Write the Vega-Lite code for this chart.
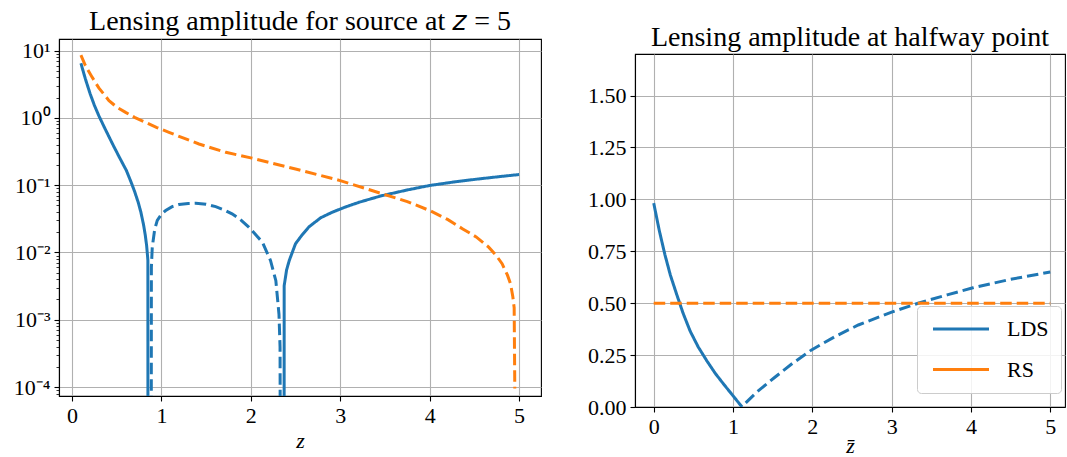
{
  "$schema": "https://vega.github.io/schema/vega-lite/v6.json",
  "padding": {"left": 12, "top": 7, "right": 0, "bottom": 0},
  "spacing": 44,
  "config": {
    "font": "Liberation Serif",
    "view": {"stroke": "#000000", "strokeWidth": 1.1},
    "title": {"font": "Liberation Serif", "fontSize": 28, "fontWeight": "normal", "color": "#000000", "offset": 3, "anchor": "middle", "baseline": "bottom"},
    "axis": {
      "labelFont": "Liberation Serif", "labelFontSize": 22, "labelColor": "#000000",
      "titleFont": "Liberation Serif", "titleFontSize": 22, "titleFontWeight": "normal", "titleColor": "#000000",
      "domainColor": "#000000", "domainWidth": 1.1, "tickColor": "#000000", "tickSize": 5, "tickWidth": 1.1,
      "gridColor": "#b0b0b0", "gridWidth": 1.1, "labelPadding": 4, "grid": true, "labelOverlap": false
    },
    "legend": {"labelFont": "Liberation Serif", "labelFontSize": 22, "labelColor": "#000000"}
  },
  "resolve": {"scale": {"color": "independent", "strokeDash": "independent"}, "legend": {"color": "independent"}},
  "hconcat": [
    {
      "width": 482,
      "height": 357,
      "title": {"text": "Lensing amplitude for source at 𝑧 = 5"},
      "data": {"values": [
        {"series": "LDS", "seg": "a", "style": "solid", "z": 0.1, "A": 6.5},
        {"series": "LDS", "seg": "a", "style": "solid", "z": 0.15, "A": 3.8},
        {"series": "LDS", "seg": "a", "style": "solid", "z": 0.204, "A": 2.27},
        {"series": "LDS", "seg": "a", "style": "solid", "z": 0.25, "A": 1.55},
        {"series": "LDS", "seg": "a", "style": "solid", "z": 0.3, "A": 1.08},
        {"series": "LDS", "seg": "a", "style": "solid", "z": 0.37, "A": 0.69},
        {"series": "LDS", "seg": "a", "style": "solid", "z": 0.454, "A": 0.41},
        {"series": "LDS", "seg": "a", "style": "solid", "z": 0.53, "A": 0.26},
        {"series": "LDS", "seg": "a", "style": "solid", "z": 0.608, "A": 0.166},
        {"series": "LDS", "seg": "a", "style": "solid", "z": 0.66, "A": 0.112},
        {"series": "LDS", "seg": "a", "style": "solid", "z": 0.7, "A": 0.081},
        {"series": "LDS", "seg": "a", "style": "solid", "z": 0.74, "A": 0.056},
        {"series": "LDS", "seg": "a", "style": "solid", "z": 0.77, "A": 0.04},
        {"series": "LDS", "seg": "a", "style": "solid", "z": 0.8, "A": 0.026},
        {"series": "LDS", "seg": "a", "style": "solid", "z": 0.82, "A": 0.018},
        {"series": "LDS", "seg": "a", "style": "solid", "z": 0.835, "A": 0.0126},
        {"series": "LDS", "seg": "a", "style": "solid", "z": 0.845, "A": 0.0089},
        {"series": "LDS", "seg": "a", "style": "solid", "z": 0.849, "A": 0.0076},
        {"series": "LDS", "seg": "a", "style": "solid", "z": 0.85, "A": 1e-7},
        {"series": "LDS", "seg": "b", "style": "dashed", "z": 0.886, "A": 1e-7},
        {"series": "LDS", "seg": "b", "style": "dashed", "z": 0.888, "A": 0.006},
        {"series": "LDS", "seg": "b", "style": "dashed", "z": 0.898, "A": 0.012},
        {"series": "LDS", "seg": "b", "style": "dashed", "z": 0.925, "A": 0.022},
        {"series": "LDS", "seg": "b", "style": "dashed", "z": 0.954, "A": 0.03},
        {"series": "LDS", "seg": "b", "style": "dashed", "z": 1.0, "A": 0.037},
        {"series": "LDS", "seg": "b", "style": "dashed", "z": 1.048, "A": 0.042},
        {"series": "LDS", "seg": "b", "style": "dashed", "z": 1.12, "A": 0.048},
        {"series": "LDS", "seg": "b", "style": "dashed", "z": 1.197, "A": 0.0515},
        {"series": "LDS", "seg": "b", "style": "dashed", "z": 1.3, "A": 0.0535},
        {"series": "LDS", "seg": "b", "style": "dashed", "z": 1.384, "A": 0.0538},
        {"series": "LDS", "seg": "b", "style": "dashed", "z": 1.5, "A": 0.052},
        {"series": "LDS", "seg": "b", "style": "dashed", "z": 1.607, "A": 0.048},
        {"series": "LDS", "seg": "b", "style": "dashed", "z": 1.7, "A": 0.043},
        {"series": "LDS", "seg": "b", "style": "dashed", "z": 1.79, "A": 0.0375},
        {"series": "LDS", "seg": "b", "style": "dashed", "z": 1.88, "A": 0.031},
        {"series": "LDS", "seg": "b", "style": "dashed", "z": 1.98, "A": 0.0237},
        {"series": "LDS", "seg": "b", "style": "dashed", "z": 2.06, "A": 0.018},
        {"series": "LDS", "seg": "b", "style": "dashed", "z": 2.13, "A": 0.0142},
        {"series": "LDS", "seg": "b", "style": "dashed", "z": 2.22, "A": 0.0076},
        {"series": "LDS", "seg": "b", "style": "dashed", "z": 2.28, "A": 0.0038},
        {"series": "LDS", "seg": "b", "style": "dashed", "z": 2.315, "A": 0.0012},
        {"series": "LDS", "seg": "b", "style": "dashed", "z": 2.327, "A": 0.00039},
        {"series": "LDS", "seg": "b", "style": "dashed", "z": 2.332, "A": 1e-7},
        {"series": "LDS", "seg": "c", "style": "solid", "z": 2.372, "A": 1e-7},
        {"series": "LDS", "seg": "c", "style": "solid", "z": 2.373, "A": 0.0032},
        {"series": "LDS", "seg": "c", "style": "solid", "z": 2.4, "A": 0.0055},
        {"series": "LDS", "seg": "c", "style": "solid", "z": 2.43, "A": 0.0076},
        {"series": "LDS", "seg": "c", "style": "solid", "z": 2.5, "A": 0.0135},
        {"series": "LDS", "seg": "c", "style": "solid", "z": 2.57, "A": 0.018},
        {"series": "LDS", "seg": "c", "style": "solid", "z": 2.65, "A": 0.024},
        {"series": "LDS", "seg": "c", "style": "solid", "z": 2.78, "A": 0.0327},
        {"series": "LDS", "seg": "c", "style": "solid", "z": 2.91, "A": 0.0396},
        {"series": "LDS", "seg": "c", "style": "solid", "z": 3.05, "A": 0.047},
        {"series": "LDS", "seg": "c", "style": "solid", "z": 3.21, "A": 0.0557},
        {"series": "LDS", "seg": "c", "style": "solid", "z": 3.45, "A": 0.069},
        {"series": "LDS", "seg": "c", "style": "solid", "z": 3.75, "A": 0.085},
        {"series": "LDS", "seg": "c", "style": "solid", "z": 4.0, "A": 0.099},
        {"series": "LDS", "seg": "c", "style": "solid", "z": 4.3, "A": 0.113},
        {"series": "LDS", "seg": "c", "style": "solid", "z": 4.55, "A": 0.124},
        {"series": "LDS", "seg": "c", "style": "solid", "z": 4.8, "A": 0.135},
        {"series": "LDS", "seg": "c", "style": "solid", "z": 5.0, "A": 0.144},
        {"series": "RS", "seg": "d", "style": "dashed", "z": 0.1, "A": 8.6},
        {"series": "RS", "seg": "d", "style": "dashed", "z": 0.15, "A": 6.0},
        {"series": "RS", "seg": "d", "style": "dashed", "z": 0.227, "A": 4.0},
        {"series": "RS", "seg": "d", "style": "dashed", "z": 0.3, "A": 2.8},
        {"series": "RS", "seg": "d", "style": "dashed", "z": 0.414, "A": 1.81},
        {"series": "RS", "seg": "d", "style": "dashed", "z": 0.5, "A": 1.45},
        {"series": "RS", "seg": "d", "style": "dashed", "z": 0.6, "A": 1.21},
        {"series": "RS", "seg": "d", "style": "dashed", "z": 0.7, "A": 1.02},
        {"series": "RS", "seg": "d", "style": "dashed", "z": 0.824, "A": 0.86},
        {"series": "RS", "seg": "d", "style": "dashed", "z": 0.95, "A": 0.72},
        {"series": "RS", "seg": "d", "style": "dashed", "z": 1.085, "A": 0.61},
        {"series": "RS", "seg": "d", "style": "dashed", "z": 1.25, "A": 0.5},
        {"series": "RS", "seg": "d", "style": "dashed", "z": 1.42, "A": 0.41},
        {"series": "RS", "seg": "d", "style": "dashed", "z": 1.72, "A": 0.308},
        {"series": "RS", "seg": "d", "style": "dashed", "z": 2.0, "A": 0.255},
        {"series": "RS", "seg": "d", "style": "dashed", "z": 2.5, "A": 0.174},
        {"series": "RS", "seg": "d", "style": "dashed", "z": 3.0, "A": 0.117},
        {"series": "RS", "seg": "d", "style": "dashed", "z": 3.45, "A": 0.076},
        {"series": "RS", "seg": "d", "style": "dashed", "z": 3.75, "A": 0.057},
        {"series": "RS", "seg": "d", "style": "dashed", "z": 4.0, "A": 0.042},
        {"series": "RS", "seg": "d", "style": "dashed", "z": 4.2, "A": 0.031},
        {"series": "RS", "seg": "d", "style": "dashed", "z": 4.37, "A": 0.0224},
        {"series": "RS", "seg": "d", "style": "dashed", "z": 4.52, "A": 0.017},
        {"series": "RS", "seg": "d", "style": "dashed", "z": 4.66, "A": 0.012},
        {"series": "RS", "seg": "d", "style": "dashed", "z": 4.75, "A": 0.0088},
        {"series": "RS", "seg": "d", "style": "dashed", "z": 4.81, "A": 0.0068},
        {"series": "RS", "seg": "d", "style": "dashed", "z": 4.87, "A": 0.0046},
        {"series": "RS", "seg": "d", "style": "dashed", "z": 4.905, "A": 0.0034},
        {"series": "RS", "seg": "d", "style": "dashed", "z": 4.93, "A": 0.0022},
        {"series": "RS", "seg": "d", "style": "dashed", "z": 4.945, "A": 0.0015},
        {"series": "RS", "seg": "d", "style": "dashed", "z": 4.952, "A": 0.000095}
      ]},
      "mark": {"type": "line", "strokeWidth": 3, "clip": true},
      "encoding": {
        "x": {"field": "z", "type": "quantitative",
              "scale": {"domain": [-0.145, 5.245], "nice": false, "zero": false},
              "axis": {"values": [0, 1, 2, 3, 4, 5], "format": "d", "title": "z", "titleFontStyle": "italic", "titlePadding": 4}},
        "y": {"field": "A", "type": "quantitative",
              "scale": {"type": "log", "domain": [0.0000735, 14.9], "nice": false},
              "axis": {
                "title": null,
                "values": [0.00008, 0.00009, 0.0001, 0.0002, 0.0003, 0.0004, 0.0005, 0.0006, 0.0007, 0.0008, 0.0009, 0.001, 0.002, 0.003, 0.004, 0.005, 0.006, 0.007, 0.008, 0.009, 0.01, 0.02, 0.03, 0.04, 0.05, 0.06, 0.07, 0.08, 0.09, 0.1, 0.2, 0.3, 0.4, 0.5, 0.6, 0.7, 0.8, 0.9, 1, 2, 3, 4, 5, 6, 7, 8, 9, 10],
                "labelExpr": "datum.value == 0.0001 ? '10⁻⁴' : datum.value == 0.001 ? '10⁻³' : datum.value == 0.01 ? '10⁻²' : datum.value == 0.1 ? '10⁻¹' : datum.value == 1 ? '10⁰' : datum.value == 10 ? '10¹' : ''",
                "tickSize": {"condition": {"test": "indexof([0.0001, 0.001, 0.01, 0.1, 1, 10], datum.value) >= 0", "value": 5}, "value": 3},
                "tickWidth": {"condition": {"test": "indexof([0.0001, 0.001, 0.01, 0.1, 1, 10], datum.value) >= 0", "value": 1.1}, "value": 0.8},
                "gridOpacity": {"condition": {"test": "indexof([0.0001, 0.001, 0.01, 0.1, 1, 10], datum.value) >= 0", "value": 1}, "value": 0}
              }},
        "color": {"field": "series", "type": "nominal",
                  "scale": {"domain": ["LDS", "RS"], "range": ["#1f77b4", "#ff7f0e"]}, "legend": null},
        "strokeDash": {"field": "style", "type": "nominal",
                       "scale": {"domain": ["solid", "dashed"], "range": [[1, 0], [11.5, 5]]}, "legend": null},
        "detail": {"field": "seg", "type": "nominal"}
      }
    },
    {
      "spacing": 0,
      "vconcat": [
        {
          "width": 430,
          "height": 14,
          "title": {"text": "Lensing amplitude at halfway point", "offset": -13},
          "view": {"stroke": null},
          "data": {"values": []},
          "mark": {"type": "text"}
        },
        {
          "width": 430,
          "height": 353,
          "data": {"values": [
            {"series": "LDS", "seg": "a", "style": "solid", "zbar": 0.0, "A": 0.982},
            {"series": "LDS", "seg": "a", "style": "solid", "zbar": 0.07, "A": 0.85},
            {"series": "LDS", "seg": "a", "style": "solid", "zbar": 0.141, "A": 0.734},
            {"series": "LDS", "seg": "a", "style": "solid", "zbar": 0.21, "A": 0.635},
            {"series": "LDS", "seg": "a", "style": "solid", "zbar": 0.29, "A": 0.542},
            {"series": "LDS", "seg": "a", "style": "solid", "zbar": 0.37, "A": 0.452},
            {"series": "LDS", "seg": "a", "style": "solid", "zbar": 0.46, "A": 0.365},
            {"series": "LDS", "seg": "a", "style": "solid", "zbar": 0.56, "A": 0.29},
            {"series": "LDS", "seg": "a", "style": "solid", "zbar": 0.672, "A": 0.221},
            {"series": "LDS", "seg": "a", "style": "solid", "zbar": 0.78, "A": 0.16},
            {"series": "LDS", "seg": "a", "style": "solid", "zbar": 0.884, "A": 0.109},
            {"series": "LDS", "seg": "a", "style": "solid", "zbar": 1.0, "A": 0.054},
            {"series": "LDS", "seg": "a", "style": "solid", "zbar": 1.097, "A": 0.008},
            {"series": "LDS", "seg": "a", "style": "solid", "zbar": 1.115, "A": 0.0},
            {"series": "LDS", "seg": "b", "style": "dashed", "zbar": 1.16, "A": 0.02},
            {"series": "LDS", "seg": "b", "style": "dashed", "zbar": 1.3, "A": 0.072},
            {"series": "LDS", "seg": "b", "style": "dashed", "zbar": 1.52, "A": 0.141},
            {"series": "LDS", "seg": "b", "style": "dashed", "zbar": 1.75, "A": 0.21},
            {"series": "LDS", "seg": "b", "style": "dashed", "zbar": 1.99, "A": 0.275},
            {"series": "LDS", "seg": "b", "style": "dashed", "zbar": 2.3, "A": 0.342},
            {"series": "LDS", "seg": "b", "style": "dashed", "zbar": 2.58, "A": 0.395},
            {"series": "LDS", "seg": "b", "style": "dashed", "zbar": 3.0, "A": 0.457},
            {"series": "LDS", "seg": "b", "style": "dashed", "zbar": 3.345, "A": 0.501},
            {"series": "LDS", "seg": "b", "style": "dashed", "zbar": 3.7, "A": 0.54},
            {"series": "LDS", "seg": "b", "style": "dashed", "zbar": 4.025, "A": 0.574},
            {"series": "LDS", "seg": "b", "style": "dashed", "zbar": 4.5, "A": 0.615},
            {"series": "LDS", "seg": "b", "style": "dashed", "zbar": 5.0, "A": 0.65},
            {"series": "RS", "seg": "d", "style": "dashed", "zbar": 0.0, "A": 0.5},
            {"series": "RS", "seg": "d", "style": "dashed", "zbar": 5.0, "A": 0.5}
          ]},
          "mark": {"type": "line", "strokeWidth": 3, "clip": true},
          "encoding": {
            "x": {"field": "zbar", "type": "quantitative",
                  "scale": {"domain": [-0.236, 5.186], "nice": false, "zero": false},
                  "axis": {"values": [0, 1, 2, 3, 4, 5], "format": "d", "title": "z̄", "titleFontStyle": "italic", "titlePadding": -2}},
            "y": {"field": "A", "type": "quantitative",
                  "scale": {"domain": [0, 1.7], "nice": false},
                  "axis": {"title": null, "values": [0, 0.25, 0.5, 0.75, 1.0, 1.25, 1.5], "format": ".2f"}},
            "color": {"field": "series", "type": "nominal",
                      "scale": {"domain": ["LDS", "RS"], "range": ["#1f77b4", "#ff7f0e"]},
                      "legend": {"title": null, "orient": "none", "legendX": 282, "legendY": 267,
                                 "symbolType": "M-1,0H7", "symbolSize": 196, "symbolStrokeWidth": 3,
                                 "labelOffset": 56, "padding": 12, "rowPadding": 18.6,
                                 "fillColor": "rgba(255,255,255,0.85)", "strokeColor": "#cccccc", "cornerRadius": 4}},
            "strokeDash": {"field": "style", "type": "nominal",
                           "scale": {"domain": ["solid", "dashed"], "range": [[1, 0], [11.5, 5]]}, "legend": null},
            "detail": {"field": "seg", "type": "nominal"}
          }
        }
      ]
    }
  ]
}
